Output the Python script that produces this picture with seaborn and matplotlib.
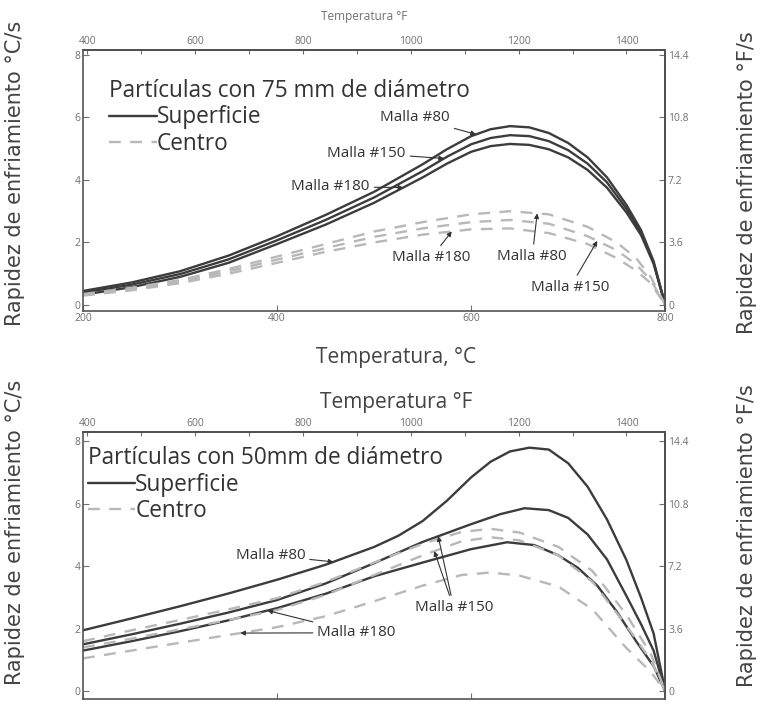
import numpy as np
import pandas as pd
import seaborn as sns
import matplotlib
matplotlib.use("Agg")
import matplotlib.pyplot as plt
from matplotlib.lines import Line2D

sns.set_theme(style="white")
plt.rcParams['font.family'] = ['Open Sans', 'DejaVu Sans']

# ---------------- data ----------------
# Top panel: 75 mm particles
t75_s = [200, 250, 300, 350, 400, 450, 500, 550, 575, 600, 620, 640, 660, 680, 700, 720, 740, 760, 775, 788, 800]
s75_80 = [0.45, 0.72, 1.08, 1.58, 2.20, 2.88, 3.62, 4.50, 4.98, 5.40, 5.62, 5.72, 5.68, 5.50, 5.18, 4.72, 4.08, 3.20, 2.40, 1.40, 0.0]
s75_150 = [0.40, 0.65, 0.99, 1.46, 2.07, 2.72, 3.44, 4.28, 4.74, 5.14, 5.34, 5.43, 5.40, 5.24, 4.95, 4.52, 3.92, 3.08, 2.32, 1.36, 0.0]
s75_180 = [0.33, 0.57, 0.90, 1.35, 1.95, 2.57, 3.27, 4.08, 4.52, 4.90, 5.08, 5.15, 5.12, 4.98, 4.72, 4.32, 3.75, 2.96, 2.24, 1.32, 0.0]
t75_c = [200, 250, 300, 350, 400, 450, 500, 550, 600, 640, 680, 720, 750, 770, 785, 800]
c75_80 = [0.35, 0.55, 0.80, 1.15, 1.55, 1.95, 2.35, 2.65, 2.90, 3.00, 2.90, 2.50, 2.00, 1.50, 0.90, 0.0]
c75_150 = [0.32, 0.50, 0.75, 1.08, 1.45, 1.82, 2.18, 2.45, 2.65, 2.72, 2.60, 2.20, 1.75, 1.30, 0.80, 0.0]
c75_180 = [0.30, 0.47, 0.70, 1.00, 1.35, 1.70, 2.00, 2.25, 2.42, 2.45, 2.30, 1.95, 1.50, 1.10, 0.70, 0.0]

# Bottom panel: 50 mm particles
t50_s80 = [200, 250, 300, 350, 400, 450, 500, 525, 550, 575, 600, 620, 640, 660, 680, 700, 720, 740, 760, 775, 788, 800]
s50_80 = [1.95, 2.33, 2.72, 3.13, 3.57, 4.05, 4.62, 4.98, 5.45, 6.10, 6.85, 7.35, 7.68, 7.80, 7.74, 7.30, 6.55, 5.50, 4.20, 3.00, 1.85, 0.0]
t50_s150 = [200, 250, 300, 350, 400, 450, 500, 550, 600, 630, 655, 680, 700, 720, 740, 760, 775, 788, 800]
s50_150 = [1.50, 1.82, 2.16, 2.52, 2.92, 3.45, 4.10, 4.78, 5.35, 5.67, 5.86, 5.80, 5.55, 5.02, 4.22, 3.05, 2.15, 1.30, 0.0]
t50_s180 = [200, 250, 300, 350, 400, 450, 500, 550, 600, 637, 665, 690, 710, 730, 750, 770, 788, 800]
s50_180 = [1.30, 1.60, 1.92, 2.27, 2.66, 3.12, 3.68, 4.12, 4.55, 4.77, 4.68, 4.35, 3.95, 3.38, 2.55, 1.60, 0.80, 0.0]
t50_c = [200, 250, 300, 350, 400, 450, 500, 550, 590, 620, 650, 690, 725, 760, 785, 800]
c50_80 = [1.60, 1.95, 2.28, 2.62, 2.98, 3.50, 4.12, 4.72, 5.10, 5.20, 5.08, 4.62, 3.85, 2.45, 1.20, 0.0]
c50_150 = [1.40, 1.68, 1.98, 2.28, 2.60, 3.08, 3.72, 4.35, 4.80, 4.93, 4.83, 4.35, 3.50, 2.10, 1.00, 0.0]
c50_180 = [1.05, 1.30, 1.55, 1.80, 2.05, 2.40, 2.88, 3.38, 3.72, 3.80, 3.70, 3.35, 2.62, 1.38, 0.62, 0.0]

yticks_c = [0, 2, 4, 6, 8]
yticks_f = [0, 3.6, 7.2, 10.8, 14.4]
yticklabels_f = ["0", "3.6", "7.2", "10.8", "14.4"]
xticks_c = [200, 400, 600, 800]
xticks_f = [400, 600, 800, 1000, 1200, 1400]
xticks_f_minor = [500, 700, 900, 1100, 1300]


def long_df(parts):
    rows = []
    for pos, malla, t, v in parts:
        for ti, vi in zip(t, v):
            rows.append((ti, vi, pos, f"{pos}-{malla}"))
    return pd.DataFrame(rows, columns=["T", "rate", "pos", "unit"])


df75 = long_df([
    ("Superficie", 80, t75_s, s75_80), ("Superficie", 150, t75_s, s75_150),
    ("Superficie", 180, t75_s, s75_180),
    ("Centro", 80, t75_c, c75_80), ("Centro", 150, t75_c, c75_150),
    ("Centro", 180, t75_c, c75_180)])
df50 = long_df([
    ("Superficie", 80, t50_s80, s50_80), ("Superficie", 150, t50_s150, s50_150),
    ("Superficie", 180, t50_s180, s50_180),
    ("Centro", 80, t50_c, c50_80), ("Centro", 150, t50_c, c50_150),
    ("Centro", 180, t50_c, c50_180)])

SOLID = "#3c3c3c"
DASH = "#b8b8b8"
palette = {"Superficie": SOLID, "Centro": DASH}
dashes = {"Superficie": "", "Centro": (5, 4)}
TXT = "#333333"
TICK = "#707070"
LAB = "#444444"

fig = plt.figure(figsize=(7.62, 7.06), dpi=100)
ax1 = fig.add_axes([0.109, 0.560, 0.764, 0.369])
ax2 = fig.add_axes([0.109, 0.010, 0.764, 0.378])


def c2f(c):
    return c * 9 / 5 + 32


def f2c(f):
    return (f - 32) * 5 / 9


def style_axes(ax, show_bottom_labels, ylim):
    ax.set_xlim(200, 800)
    ax.set_ylim(*ylim)
    ax.set_xticks(xticks_c)
    ax.set_yticks(yticks_c)
    ax.set_xlabel("")
    ax.set_ylabel("")
    ax.tick_params(direction="in", length=4, width=0.8, colors=TICK,
                   labelsize=7.5, pad=2, left=True, bottom=True)
    if not show_bottom_labels:
        ax.tick_params(labelbottom=False)
    for sp in ax.spines.values():
        sp.set_color("#555555")
        sp.set_linewidth(1.2)
    top = ax.secondary_xaxis("top", functions=(c2f, f2c))
    top.set_xticks(xticks_f)
    top.set_xticks(xticks_f_minor, minor=True)
    top.tick_params(which="both", direction="in", length=3, width=0.8,
                    colors=TICK, labelsize=7.5, pad=2)
    right = ax.secondary_yaxis("right", functions=(lambda v: v * 1.8, lambda v: v / 1.8))
    right.set_yticks(yticks_f)
    right.set_yticklabels(yticklabels_f)
    right.tick_params(direction="in", length=4, width=0.8, colors=TICK,
                      labelsize=7.5, pad=2)
    return top, right


for ax, df in ((ax1, df75), (ax2, df50)):
    sns.lineplot(data=df, x="T", y="rate", hue="pos", style="pos", units="unit",
                 estimator=None, sort=False, palette=palette, dashes=dashes,
                 linewidth=1.7, legend=False, ax=ax)

style_axes(ax1, True, (-0.18, 8.15))
style_axes(ax2, False, (-0.25, 8.3))

# legends
handles = [Line2D([], [], color=SOLID, lw=1.7),
           Line2D([], [], color=DASH, lw=1.7, dashes=(5, 4))]
for ax, title, anchor in ((ax1, "Partículas con 75 mm de diámetro", (0.045, 0.89)),
                          (ax2, "Partículas con 50mm de diámetro", (0.008, 0.948))):
    leg = ax.legend(handles, ["Superficie", "Centro"], title=title,
                    loc="upper left", bbox_to_anchor=anchor, frameon=False,
                    fontsize=16.3, title_fontsize=16.3, handlelength=2.1,
                    handletextpad=0.0, labelspacing=0.12, borderpad=0.0,
                    borderaxespad=0.0, alignment="left")
    for t in leg.get_texts():
        t.set_color(TXT)
    leg.get_title().set_color(TXT)

arrow = dict(arrowstyle="-|>", lw=0.8, color="#333333", mutation_scale=7,
             shrinkA=1, shrinkB=0)
AFS = 11


def note(ax, text, xytext, t_tip, tv, vv, visible=True):
    tip = (t_tip, float(np.interp(t_tip, tv, vv)))
    a = ax.annotate(text, xy=tip, xytext=xytext, fontsize=AFS, color=TXT,
                    ha="center", va="center", arrowprops=arrow)
    if not visible:
        a.set_alpha(0)


# top panel annotations
note(ax1, "Malla #80", (542, 6.0), 605, t75_s, s75_80)
note(ax1, "Malla #150", (492, 4.86), 572, t75_s, s75_150)
note(ax1, "Malla #180", (455, 3.78), 530, t75_s, s75_180)
note(ax1, "Malla #180", (559, 1.52), 580, t75_c, c75_180)
note(ax1, "Malla #80", (663, 1.56), 668, t75_c, c75_80)
note(ax1, "Malla #150", (702, 0.57), 730, t75_c, c75_150)

# bottom panel annotations
note(ax2, "Malla #80", (393, 4.35), 458, t50_s80, s50_80)
note(ax2, "Malla #150", (582, 2.68), 566, t50_s150, s50_150)
note(ax2, "Malla #150", (582, 2.68), 562, t50_c, c50_150, visible=False)
note(ax2, "Malla #180", (482, 1.87), 390, t50_s180, s50_180)
note(ax2, "Malla #180", (482, 1.87), 362, t50_c, c50_180, visible=False)

# axis titles
side = dict(rotation=90, ha="center", va="center", fontsize=15, color=LAB,
            family=["DejaVu Sans"])
fig.text(0.020, 0.755, "Rapidez de enfriamiento °C/s", **side)
fig.text(0.020, 0.246, "Rapidez de enfriamiento °C/s", **side)
fig.text(0.980, 0.742, "Rapidez de enfriamiento °F/s", **side)
fig.text(0.980, 0.242, "Rapidez de enfriamiento °F/s", **side)
fig.text(0.520, 0.493, "Temperatura, °C", ha="center", va="center", fontsize=15, color=LAB)
fig.text(0.520, 0.430, "Temperatura °F", ha="center", va="center", fontsize=15, color=LAB)
fig.text(0.478, 0.976, "Temperatura °F", ha="center", va="center", fontsize=8.5, color=TICK)

fig.savefig("out.png", dpi=100, facecolor="white")
